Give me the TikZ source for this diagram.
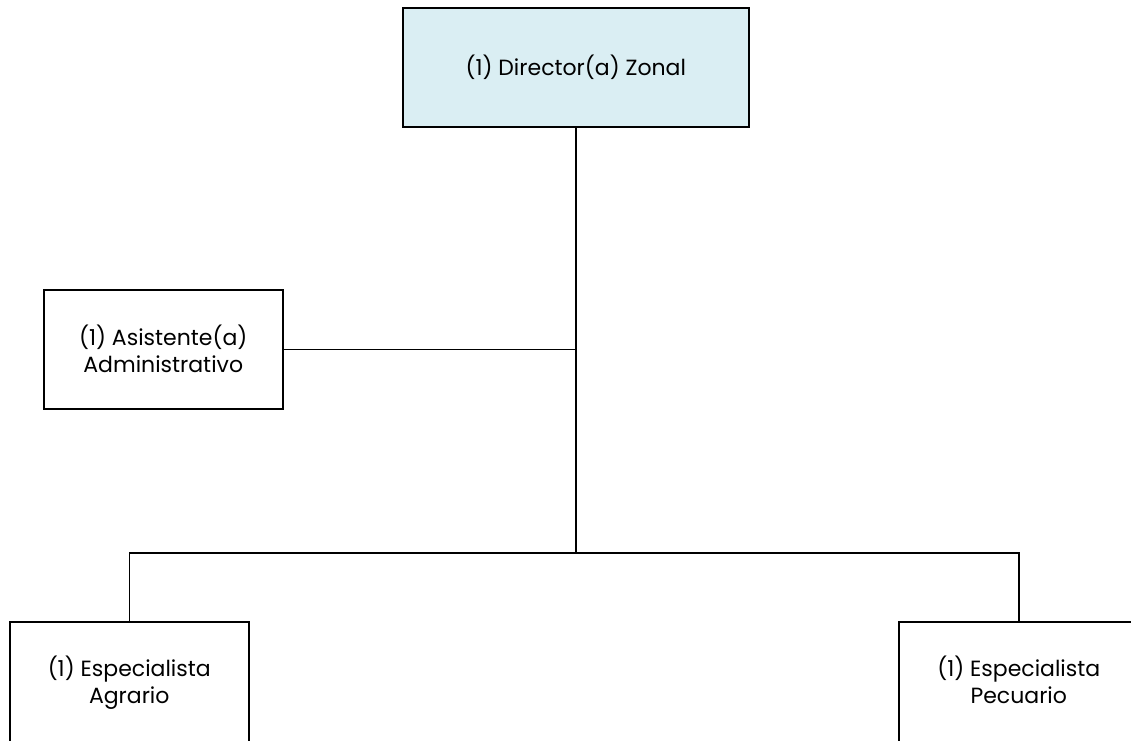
\documentclass[tikz,border=0pt]{standalone}
\usepackage{fontspec}
\setmainfont{Poppins}
\usepackage{tikz}
\usetikzlibrary{positioning}
\definecolor{paleblue}{HTML}{DAEEF3}

\begin{document}
\begin{tikzpicture}[
  x=1pt,y=-1pt,
  post/.style={draw=black,line width=1.5pt,fill=white,minimum width=239pt,minimum height=121pt,align=center,font=\fontsize{22}{27}\selectfont,inner sep=0pt},
  head/.style={post,fill=paleblue,minimum width=346pt,minimum height=119pt},
  link/.style={line width=1.5pt,draw=black}
]
\useasboundingbox (0,0) rectangle (1131,740);
\clip (0,0) rectangle (1131,740);
\node[head,anchor=north west] (director) at (402,7) {(1) Director(a) Zonal};
\node[post,minimum height=119pt,anchor=north west] (asistente) at (43,289) {(1) Asistente(a)\\Administrativo};
\node[post,anchor=north west] (agrario) at (9,621) {(1) Especialista\\Agrario};
\node[post,anchor=north west,minimum width=240pt] (pecuario) at (898,621) {(1) Especialista\\Pecuario\vphantom{g}};
\coordinate (bus) at (575,553);
\draw[link] (director.south) -- (director.south |- bus);
\draw[link] (asistente.east) -- (asistente.east -| director.south);
\draw[link] (agrario.north) |- (bus) -| (pecuario.north);
\end{tikzpicture}
\end{document}
